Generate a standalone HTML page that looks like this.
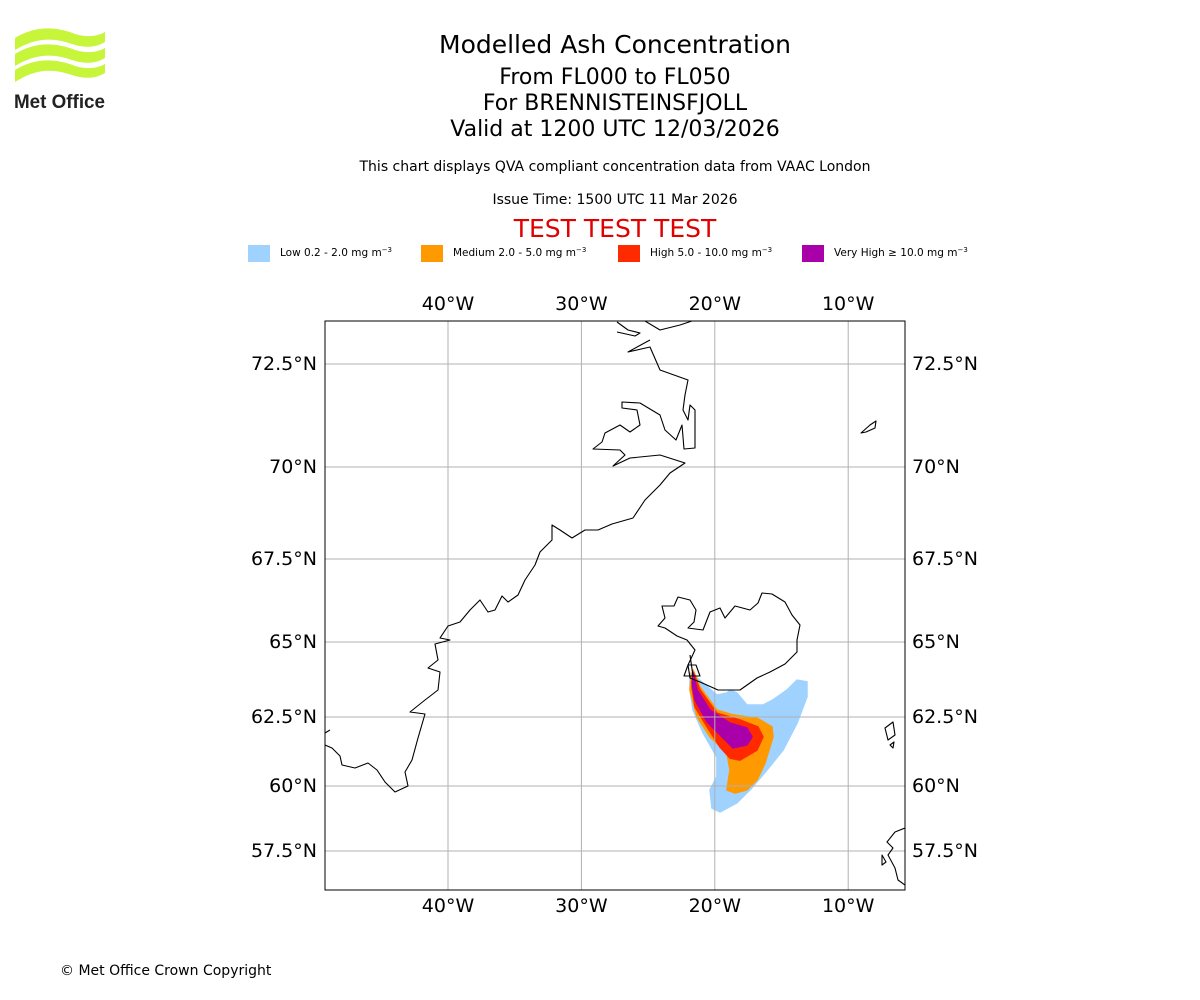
<!DOCTYPE html>
<html><head><meta charset="utf-8">
<style>
body{margin:0;background:#fff;width:1200px;height:1000px;overflow:hidden;font-family:"DejaVu Sans","Liberation Sans",sans-serif}
svg{position:absolute;left:0;top:0}
</style></head>
<body>
<svg width="1200" height="1000" viewBox="0 0 1200 1000">
<g>
 <path d="M15 38 C35 26,55 26,75 34 C88 38,98 36,105 32 L105 42 C95 48,85 48,72 44 C52 37,35 38,15 50Z" fill="#c6f53a"/>
 <path d="M15 54 C35 42,55 42,75 50 C88 54,98 52,105 48 L105 58 C95 64,85 64,72 60 C52 53,35 54,15 66Z" fill="#c6f53a"/>
 <path d="M15 70 C35 58,55 58,75 66 C88 70,98 68,105 64 L105 73 C95 79,85 79,72 75 C52 68,35 69,15 82Z" fill="#c6f53a"/>
 <text x="14" y="108" font-size="19" font-weight="bold" fill="#222" font-family="Liberation Sans,sans-serif" textLength="91" lengthAdjust="spacingAndGlyphs">Met Office</text>
</g>
<g text-anchor="middle" fill="#000">
 <text x="615" y="53" font-size="25">Modelled Ash Concentration</text>
 <text x="615" y="84" font-size="22">From FL000 to FL050</text>
 <text x="615" y="110" font-size="22">For BRENNISTEINSFJOLL</text>
 <text x="615" y="136" font-size="22">Valid at 1200 UTC 12/03/2026</text>
 <text x="615" y="171" font-size="14">This chart displays QVA compliant concentration data from VAAC London</text>
 <text x="615" y="204" font-size="14">Issue Time: 1500 UTC 11 Mar 2026</text>
 <text x="615" y="237" font-size="25" fill="#e00000">TEST TEST TEST</text>
</g>
<g font-size="10.5">
 <g><rect x="248" y="245" width="22" height="17" fill="#a0d2ff"/><text x="280" y="256">Low 0.2 - 2.0 mg m<tspan dy="-4" font-size="7">−3</tspan></text></g>
 <g><rect x="421" y="245" width="22" height="17" fill="#ff9900"/><text x="453" y="256">Medium 2.0 - 5.0 mg m<tspan dy="-4" font-size="7">−3</tspan></text></g>
 <g><rect x="618" y="245" width="22" height="17" fill="#ff2a00"/><text x="650" y="256">High 5.0 - 10.0 mg m<tspan dy="-4" font-size="7">−3</tspan></text></g>
 <g><rect x="802" y="245" width="22" height="17" fill="#aa00aa"/><text x="834" y="256">Very High  ≥  10.0 mg m<tspan dy="-4" font-size="7">−3</tspan></text></g>
</g>
<defs><clipPath id="mapclip"><rect x="325" y="321" width="580" height="569"/></clipPath></defs>
<g id="map" clip-path="url(#mapclip)">
 <g id="plumes"></g>
 <g id="grid" stroke="#b0b0b0" stroke-width="1"></g>
 <g fill="none" stroke="#000" stroke-width="1.1" stroke-linejoin="round">
  <path d="M617 322 L628 330 L640 333 L635 336 L617 332 M645 321 L660 330 L680 325 L692 321 M650 340 L628 352 L650 347 L660 370 L688 380 L685 395 L683 410 L688 420 L690 405 L695 410 L695 448 L684 449 L682 425 L676 440 L665 430 L660 415 L640 403 L622 402 L622 408 L637 410 L640 425 L630 432 L620 425 L605 433 L602 442 L593 449 L620 450 L625 455 L613 466 L630 458 L660 455 L685 463 L670 473 L660 485 L645 500 L633 518 L612 524 L598 530 L585 530 L572 538 L560 530 L552 525 L552 540 L540 552 L535 565 L525 580 L518 595 L508 602 L502 596 L495 610 L488 612 L480 600 L470 610 L460 622 L448 626 L440 638 L450 640 L435 644 L438 660 L428 668 L440 672 L438 690 L425 700 L410 712 L425 714 L418 738 L412 760 L405 772 L408 786 L395 792 L385 782 L377 770 L368 763 L355 768 L342 765 L340 756 L332 748 L325 745 M325 733 L330 730"/>
  <path d="M658 626 L665 618 L662 606 L674 606 L678 597 L690 600 L696 610 L694 622 L688 628 L703 630 L710 612 L720 608 L725 618 L735 606 L750 610 L758 603 L762 593 L772 594 L785 602 L792 615 L800 625 L797 640 L797 652 L785 664 L770 672 L757 678 L740 690 L718 690 L700 682 L690 678 L688 665 L695 650 L687 640 L677 636 L665 628 Z"/>
  <path d="M684 676 L700 676 L696 665 L688 665 Z M690 655 L693 676"/>
  <path d="M861 433 L870 425 L876 421 L875 428 L866 432 Z"/>
  <path d="M885 728 L893 722 L895 735 L888 740 Z M890 745 L894 742 L893 748 Z"/>
  <path d="M905 828 L895 832 L887 842 L893 848 L888 855 L895 868 L898 880 L905 885 M882 855 L886 862 L882 865 Z"/>
 </g>
</g>
<rect x="325" y="321" width="580" height="569" fill="none" stroke="#000" stroke-width="1"/>
<g id="labels" font-size="19" fill="#000"></g>
<text x="60" y="975" font-size="14">© Met Office Crown Copyright</text>
</svg>
<script>
const lonTicks = [-40, -30, -20, -10];
const lonTickLabels = ["40°W", "30°W", "20°W", "10°W"];
const latTicks = [72.5, 70, 67.5, 65, 62.5, 60, 57.5];
const latTickLabels = ["72.5°N", "70°N", "67.5°N", "65°N", "62.5°N", "60°N", "57.5°N"];
const levelNames = ["low", "medium", "high", "very-high"];
const levelColors = ["#a0d2ff", "#ff9900", "#ff2a00", "#aa00aa"];
const lowLon = [-21.86,-21.33,-19.84,-19.09,-18.86,-18.34,-17.59,-16.39,-15.64,-14.59,-13.84,-13.09,-13.09,-13.84,-14.89,-16.09,-17.36,-18.34,-19.61,-20.21,-20.36,-19.84,-19.84,-20.88,-21.63,-21.86];
const lowLat = [63.97,63.8,63.23,63.3,63.4,63.3,62.9,62.9,63.07,63.4,63.73,63.67,63.17,62.28,61.3,60.58,59.85,59.35,59.0,59.15,59.85,60.33,61.05,61.92,62.73,63.4];
const medLon = [-21.63,-21.11,-19.84,-18.64,-16.84,-15.71,-15.64,-16.24,-16.84,-17.59,-18.49,-19.09,-18.86,-19.09,-20.36,-21.33,-21.86,-21.78];
const medLat = [64.07,63.5,62.73,62.57,62.46,62.14,61.78,60.83,60.22,59.85,59.73,59.85,60.58,61.2,61.78,62.5,63.4,63.83];
const highLon = [-21.63,-21.11,-19.84,-18.11,-16.76,-16.39,-16.84,-18.11,-18.86,-19.61,-20.58,-21.48,-21.71];
const highLat = [64.0,63.4,62.63,62.39,62.14,61.78,61.3,60.94,61.01,61.41,62.14,62.83,63.5];
const vhLon = [-21.63,-21.33,-20.36,-18.86,-17.59,-17.21,-17.59,-18.64,-19.46,-20.58,-21.48,-21.71];
const vhLat = [63.97,63.4,62.73,62.28,62.1,61.78,61.49,61.38,61.78,62.32,63.07,63.63];

const LAT_REF = [[75,176],[72.5,364],[70,467],[67.5,559],[65,642],[62.5,717],[60,786],[57.5,851],[55,911]];
function lonToX(lon){ return 448 + (lon + 40) * 13.34; }
function latToY(lat){
  for (let i = 0; i < LAT_REF.length - 1; i++) {
    const a = LAT_REF[i], b = LAT_REF[i+1];
    if (lat <= a[0] && lat >= b[0]) return a[1] + (a[0]-lat)/(a[0]-b[0])*(b[1]-a[1]);
  }
  return lat > 75 ? 176 : 911;
}
const NS = "http://www.w3.org/2000/svg";
const plumes = document.getElementById("plumes");
const series = [[lowLon,lowLat],[medLon,medLat],[highLon,highLat],[vhLon,vhLat]];
series.forEach((s, k) => {
  const p = document.createElementNS(NS, "polygon");
  p.setAttribute("points", s[0].map((lo, i) => lonToX(lo).toFixed(1) + "," + latToY(s[1][i]).toFixed(1)).join(" "));
  p.setAttribute("fill", levelColors[k]);
  p.setAttribute("stroke", levelColors[k]);
  p.setAttribute("stroke-width", "1.5");
  p.setAttribute("stroke-linejoin", "round");
  
  
  plumes.appendChild(p);
});
const grid = document.getElementById("grid");
const labels = document.getElementById("labels");
lonTicks.forEach((lon, i) => {
  const x = lonToX(lon);
  const l = document.createElementNS(NS, "line");
  l.setAttribute("x1", x); l.setAttribute("x2", x); l.setAttribute("y1", 321); l.setAttribute("y2", 890);
  
  
  grid.appendChild(l);
  [310, 912].forEach(y => {
    const t = document.createElementNS(NS, "text");
    t.setAttribute("x", x); t.setAttribute("y", y); t.setAttribute("text-anchor", "middle");
    t.textContent = lonTickLabels[i];
    
    
    labels.appendChild(t);
  });
});
latTicks.forEach((lat, i) => {
  const y = latToY(lat);
  const l = document.createElementNS(NS, "line");
  l.setAttribute("x1", 325); l.setAttribute("x2", 905); l.setAttribute("y1", y); l.setAttribute("y2", y);
  
  
  grid.appendChild(l);
  [[317, "end"], [912, "start"]].forEach(([x, a]) => {
    const t = document.createElementNS(NS, "text");
    t.setAttribute("x", x); t.setAttribute("y", y + 6); t.setAttribute("text-anchor", a);
    t.textContent = latTickLabels[i];
    
    
    labels.appendChild(t);
  });
});
</script>
</body></html>
